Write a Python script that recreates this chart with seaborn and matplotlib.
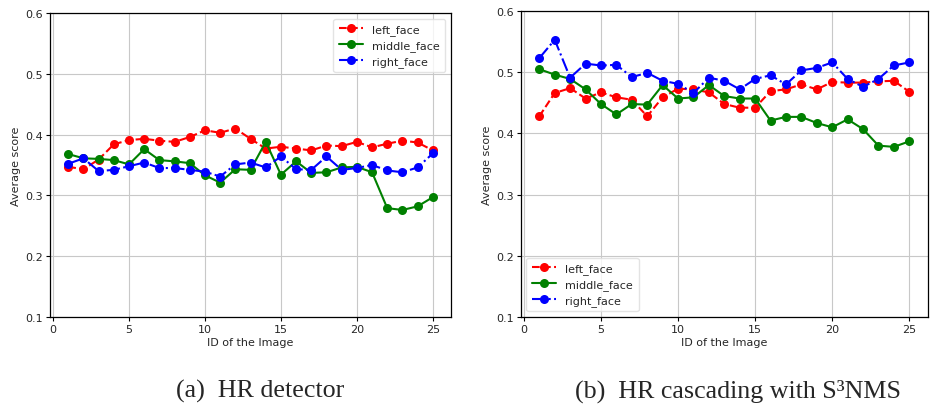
import numpy as np
import pandas as pd
import matplotlib
matplotlib.use("Agg")
import matplotlib.pyplot as plt
import seaborn as sns

ids = list(range(1, 26))
faces = ["left_face", "middle_face", "right_face"]

# (a) HR detector
a_left = [0.347, 0.343, 0.359, 0.384, 0.391, 0.393, 0.390, 0.388, 0.396, 0.407,
          0.403, 0.410, 0.393, 0.377, 0.380, 0.377, 0.374, 0.382, 0.381, 0.388,
          0.379, 0.385, 0.390, 0.387, 0.374]
a_middle = [0.368, 0.361, 0.360, 0.358, 0.351, 0.376, 0.358, 0.356, 0.353, 0.333,
            0.321, 0.343, 0.342, 0.388, 0.334, 0.356, 0.337, 0.338, 0.346, 0.347,
            0.338, 0.279, 0.276, 0.282, 0.297]
a_right = [0.352, 0.361, 0.340, 0.342, 0.348, 0.354, 0.345, 0.345, 0.342, 0.339,
           0.331, 0.351, 0.354, 0.346, 0.364, 0.343, 0.342, 0.364, 0.342, 0.345,
           0.350, 0.341, 0.338, 0.346, 0.369]

# (b) HR cascading with S3NMS
b_left = [0.428, 0.466, 0.474, 0.457, 0.467, 0.459, 0.455, 0.428, 0.459, 0.473,
          0.472, 0.467, 0.448, 0.442, 0.442, 0.469, 0.472, 0.480, 0.472, 0.484,
          0.483, 0.483, 0.485, 0.486, 0.468]
b_middle = [0.505, 0.496, 0.489, 0.472, 0.448, 0.431, 0.448, 0.447, 0.479, 0.457,
            0.459, 0.479, 0.461, 0.457, 0.457, 0.421, 0.427, 0.427, 0.417, 0.410,
            0.423, 0.407, 0.380, 0.378, 0.387]
b_right = [0.523, 0.553, 0.491, 0.514, 0.511, 0.512, 0.492, 0.499, 0.486, 0.481,
           0.466, 0.491, 0.486, 0.472, 0.489, 0.495, 0.480, 0.503, 0.507, 0.516,
           0.489, 0.476, 0.489, 0.511, 0.516]

x_ticks = [0, 5, 10, 15, 20, 25]
y_ticks = [0.1, 0.2, 0.3, 0.4, 0.5, 0.6]
captions = ["(a)  HR detector", "(b)  HR cascading with S\u00b3NMS"]


def long_df(left, middle, right):
    rows = []
    for name, vals in zip(faces, [left, middle, right]):
        for i, v in zip(ids, vals):
            rows.append({"id": i, "score": v, "face": name})
    return pd.DataFrame(rows)


sns.set_style("whitegrid", {"axes.edgecolor": "black", "grid.color": "#c8c8c8",
                            "xtick.bottom": True, "ytick.left": True})
plt.rcParams["font.family"] = ["DejaVu Sans"]

palette = {"left_face": "red", "middle_face": "green", "right_face": "blue"}
dashes = {"left_face": (3.7, 1.6), "middle_face": "", "right_face": (6.4, 1.6, 1, 1.6)}
markers = {"left_face": "o", "middle_face": "o", "right_face": "o"}

fig = plt.figure(figsize=(9.3, 4.1), dpi=100)
ax1 = fig.add_axes([0.0538, 0.2244, 0.4312, 0.7415])
ax2 = fig.add_axes([0.560, 0.2244, 0.4376, 0.7463])

for ax, data, loc in [(ax1, (a_left, a_middle, a_right), "upper right"),
                      (ax2, (b_left, b_middle, b_right), "lower left")]:
    df = long_df(*data)
    sns.lineplot(data=df, x="id", y="score", hue="face", style="face",
                 palette=palette, dashes=dashes, markers=markers,
                 markersize=6.5, markeredgewidth=0, linewidth=1.5, ax=ax)
    ax.set_ylim(0.1, 0.6)
    ax.set_xlim(-0.2, 26.2)
    ax.set_xticks(x_ticks)
    ax.set_yticks(y_ticks)
    ax.set_yticklabels([f"{t:.1f}" for t in y_ticks])
    ax.tick_params(labelsize=8, length=3, width=0.8, color="black", pad=2)
    ax.set_xlabel("ID of the Image", fontsize=8, labelpad=2)
    ax.set_ylabel("Average score", fontsize=8, labelpad=3)
    for s in ax.spines.values():
        s.set_linewidth(0.9)
        s.set_color("black")
    leg = ax.legend(loc=loc, fontsize=8, frameon=True, handlelength=2.2,
                    borderpad=0.5, labelspacing=0.45)
    leg.get_frame().set_edgecolor("#dddddd")

fig.text(0.28, 0.045, captions[0], ha="center", va="center",
         fontsize=18.7, family=["Liberation Serif", "DejaVu Serif"])
fig.text(0.794, 0.045, captions[1], ha="center", va="center",
         fontsize=18.7, family=["Liberation Serif", "DejaVu Serif"])

fig.savefig("out.png", dpi=100)
